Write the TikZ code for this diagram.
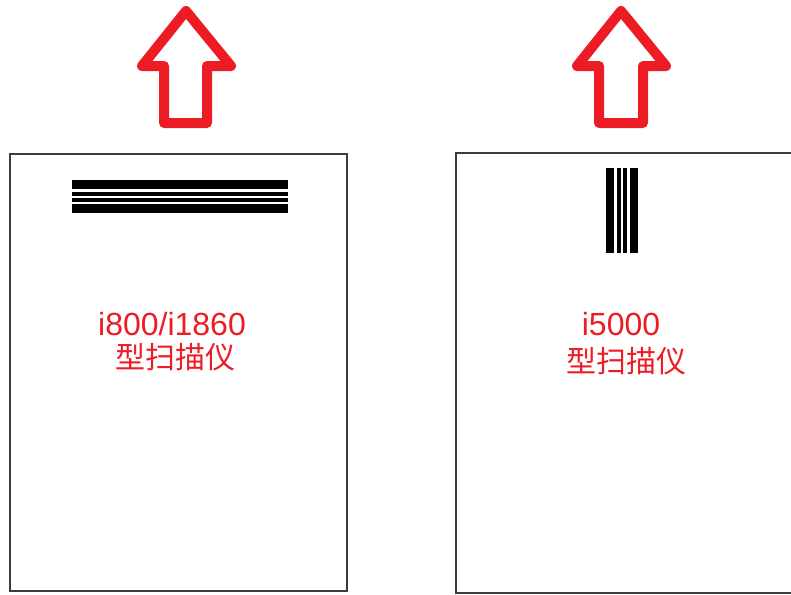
\documentclass[tikz,border=0pt]{standalone}
\usepackage{fontspec}
\setmainfont{Liberation Sans}
\newfontfamily\cjk{Noto Sans CJK SC}
\definecolor{paintred}{RGB}{237,28,36}
\definecolor{boxgray}{RGB}{60,60,60}
\begin{document}
\begin{tikzpicture}[x=1pt, y=-1pt,
  scanner/.style={draw=boxgray, line width=1.6pt, inner sep=0pt},
  bar/.style={fill=black},
  hollowup/.style={draw=paintred, line width=10pt, line join=round},
  redtext/.style={text=paintred, font=\fontsize{32}{34}\selectfont, anchor=base, inner sep=0pt},
  redcjk/.style={text=paintred, font=\fontsize{30}{32}\selectfont\cjk, anchor=base, inner sep=0pt}]
\useasboundingbox (0,0) rectangle (791,594);
% scanner outlines
\node[scanner, minimum width=337pt, minimum height=437pt] (scanA) at (178.5,372.5) {};
\node[scanner, minimum width=354pt, minimum height=440pt] (scanB) at (633,373) {};
% horizontal lamp bars
\fill[bar] (72,180) rectangle (288,189);
\fill[bar] (72,192) rectangle (288,196);
\fill[bar] (72,198) rectangle (288,202);
\fill[bar] (72,204) rectangle (288,213);
% vertical lamp bars
\fill[bar] (606,168) rectangle (614,253);
\fill[bar] (617,168) rectangle (621,253);
\fill[bar] (623,168) rectangle (627,253);
\fill[bar] (630,168) rectangle (638,253);
% feed direction
\draw[hollowup] (186,11) -- (231,66) -- (207,66) -- (207,123) -- (164,123) -- (164,66) -- (142,66) -- cycle;
\draw[hollowup] (621,11) -- (666,66) -- (643,66) -- (643,123) -- (599,123) -- (599,66) -- (577,66) -- cycle;
% labels
\node[redtext] (nameA) at (172,335) {i800/i1860};
\node[redcjk] (typeA) at (175,368) {型扫描仪};
\node[redtext] (nameB) at (621,335) {i5000};
\node[redcjk] (typeB) at (626,372) {型扫描仪};
\end{tikzpicture}
\end{document}
